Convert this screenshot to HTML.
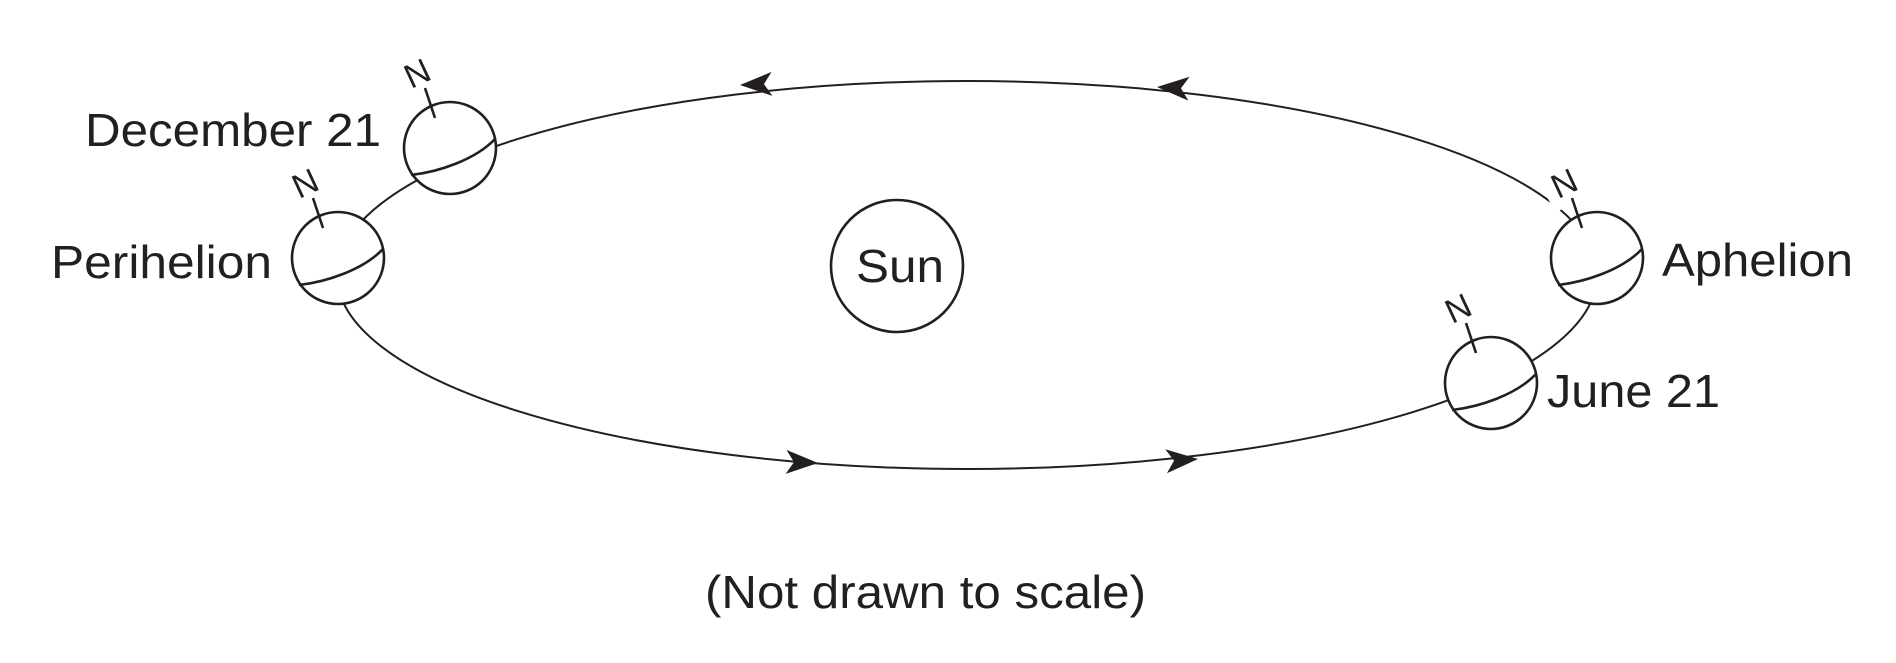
<!DOCTYPE html>
<html><head><style>html,body{margin:0;padding:0;background:#fff}</style></head>
<body>
<svg width="1896" height="658" viewBox="0 0 1896 658" xmlns="http://www.w3.org/2000/svg" font-family="Liberation Sans, sans-serif" fill="#231f20">
<defs>
<g id="globe">
  <circle cx="0" cy="0" r="46" fill="#fff" stroke="#231f20" stroke-width="2.6"/>
  <path d="M-39,27 C-12,24 25,12 45,-9" fill="none" stroke="#231f20" stroke-width="2.6"/>
  <rect x="-54" y="-100" width="40" height="48" fill="#fff" transform="rotate(-25 -33 -75)"/>
  <line x1="-15" y1="-30" x2="-25" y2="-60" stroke="#231f20" stroke-width="2.6"/>
  <text x="-33" y="-63" font-size="34" text-anchor="middle" transform="rotate(-25 -33 -75)">N</text>
</g>
<path id="arr" d="M0,0 L-32,-12 L-24,0 L-32,12 Z" fill="#231f20"/>
</defs>
<ellipse cx="967" cy="275" rx="630" ry="194" fill="none" stroke="#231f20" stroke-width="2"/>
<use href="#arr" transform="translate(740,85) rotate(178)"/>
<use href="#arr" transform="translate(1157,87) rotate(183)"/>
<use href="#arr" transform="translate(818,463) rotate(2)"/>
<use href="#arr" transform="translate(1198,459) rotate(-4)"/>
<use href="#globe" transform="translate(450,148)"/>
<use href="#globe" transform="translate(338,258)"/>
<use href="#globe" transform="translate(1597,258)"/>
<use href="#globe" transform="translate(1491,383)"/>
<circle cx="897" cy="266" r="66" fill="#fff" stroke="#231f20" stroke-width="2.6"/>
<g font-size="46">
<text x="85" y="146" textLength="296" lengthAdjust="spacingAndGlyphs">December 21</text>
<text x="51" y="278" textLength="221" lengthAdjust="spacingAndGlyphs">Perihelion</text>
<text x="1662" y="276" textLength="191" lengthAdjust="spacingAndGlyphs">Aphelion</text>
<text x="1547" y="407" textLength="173" lengthAdjust="spacingAndGlyphs">June 21</text>
<text x="856" y="282" textLength="88" lengthAdjust="spacingAndGlyphs">Sun</text>
<text x="705" y="608" textLength="441" lengthAdjust="spacingAndGlyphs">(Not drawn to scale)</text>
</g>
</svg>
</body></html>
